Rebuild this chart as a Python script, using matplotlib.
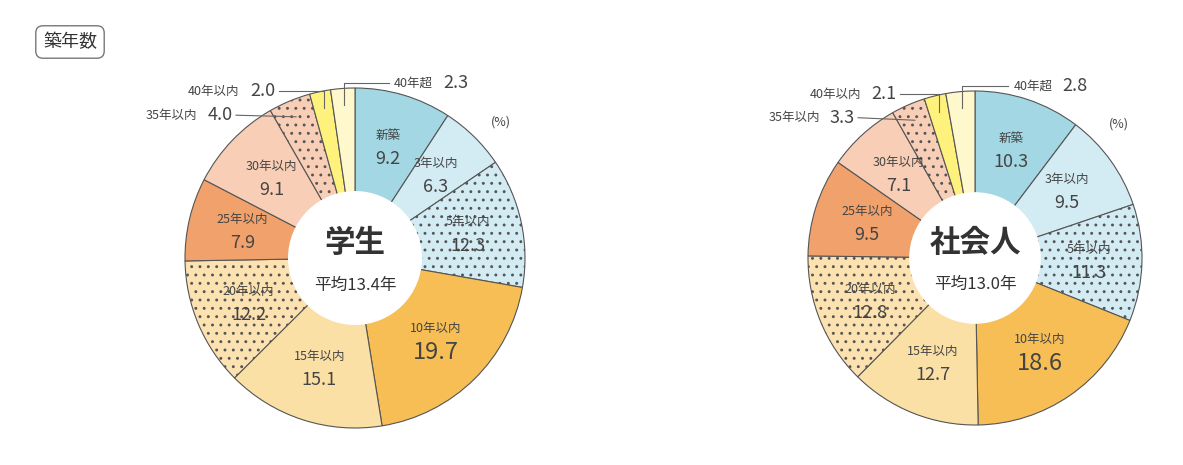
import matplotlib.pyplot as plt
import numpy as np

plt.rcParams['font.family'] = ['Noto Sans CJK JP', 'DejaVu Sans']

categories = ['新築', '3年以内', '5年以内', '10年以内', '15年以内', '20年以内',
              '25年以内', '30年以内', '35年以内', '40年以内', '40年超']
student = [9.2, 6.3, 12.3, 19.7, 15.1, 12.2, 7.9, 9.1, 4.0, 2.0, 2.3]
worker = [10.3, 9.5, 11.3, 18.6, 12.7, 12.8, 9.5, 7.1, 3.3, 2.1, 2.8]

colors = ['#a3d7e3', '#d3ecf4', '#d3ecf4', '#f6be55', '#fbe0a6', '#fbe2b0',
          '#f1a26c', '#f8cfb6', '#f8cfb6', '#fff27c', '#fff8cc']
hatches = ['', '', '..', '', '', '..', '', '', '..', '', '']
big_value = [False, False, False, True, False, False, False, False, False, False, False]

plt.rcParams['hatch.color'] = '#c9b49c'
plt.rcParams['hatch.linewidth'] = 0.9

fig = plt.figure(figsize=(11.83, 4.65), dpi=100)
W, H = 1183, 465
txt = '#444444'


def draw(cx, cy, r, values, title, avg):
    ax = fig.add_axes([(cx - r) / W, (H - cy - r) / H, 2 * r / W, 2 * r / H])
    wedges, _ = ax.pie(values, colors=colors, startangle=90, counterclock=False,
                       wedgeprops=dict(edgecolor='#555555', linewidth=0.8))
    for w, h in zip(wedges, hatches):
        if h:
            w.set_hatch(h)
    ax.add_patch(plt.Circle((0, 0), 0.39, color='white', zorder=5))
    ax.set_xlim(-1, 1)
    ax.set_ylim(-1, 1)
    ax.set_aspect('equal')
    ax.axis('off')
    ax.text(0, 0.09, title, ha='center', va='center', fontsize=22,
            fontweight='bold', color='#333333', zorder=6)
    ax.text(0, -0.16, avg, ha='center', va='center', fontsize=12,
            color='#333333', zorder=6)
    total = sum(values)
    start = 90.0
    for i, (cat, v) in enumerate(zip(categories, values)):
        mid = np.deg2rad(start - v / total * 180)
        start -= v / total * 360
        if i >= 8:
            continue
        rr = 0.68
        x, y = rr * np.cos(mid), rr * np.sin(mid)
        ax.text(x, y + 0.07, cat, ha='center', va='center', fontsize=9, color=txt, zorder=6)
        ax.text(x, y - 0.07, f'{v:.1f}', ha='center', va='center',
                fontsize=17 if big_value[i] else 13, color=txt, zorder=6)
    # small outside labels
    m9 = np.deg2rad(90 - (sum(values[:9]) + values[9] / 2) / total * 360)
    m10 = np.deg2rad(90 - (sum(values[:10]) + values[10] / 2) / total * 360)
    ax.plot([0.9 * np.cos(m10), 0.9 * np.cos(m10), 0.2], [0.9 * np.sin(m10), 1.03, 1.03],
            color='#666666', lw=0.8, clip_on=False)
    ax.text(0.23, 1.03, '40年超', ha='left', va='center', fontsize=9, color=txt)
    ax.text(0.52, 1.03, f'{values[10]:.1f}', ha='left', va='center', fontsize=13, color=txt)
    ax.plot([0.9 * np.cos(m9), 0.9 * np.cos(m9), -0.45], [0.9 * np.sin(m9), 0.98, 0.98],
            color='#666666', lw=0.8, clip_on=False)
    ax.text(-0.47, 0.98, f'{values[9]:.1f}', ha='right', va='center', fontsize=13, color=txt)
    ax.text(-0.68, 0.98, '40年以内', ha='right', va='center', fontsize=9, color=txt)
    m8 = np.deg2rad(90 - (sum(values[:8]) + values[8] / 2) / total * 360)
    ax.plot([0.9 * np.cos(m8), -0.7], [0.9 * np.sin(m8), 0.84],
            color='#666666', lw=0.8, clip_on=False)
    ax.text(-0.72, 0.84, f'{values[8]:.1f}', ha='right', va='center', fontsize=13, color=txt)
    ax.text(-0.93, 0.84, '35年以内', ha='right', va='center', fontsize=9, color=txt)
    ax.text(0.86, 0.80, '(%)', ha='center', va='center', fontsize=9, color=txt)


draw(355, 258, 170, student, '学生', '平均13.4年')
draw(975, 258, 167, worker, '社会人', '平均13.0年')

fig.text(70 / W, 1 - 42 / H, '築年数', ha='center', va='center', fontsize=13,
         color='#333333',
         bbox=dict(boxstyle='round,pad=0.4', fc='white', ec='#777777', lw=1))

fig.savefig('out.png', dpi=100)
